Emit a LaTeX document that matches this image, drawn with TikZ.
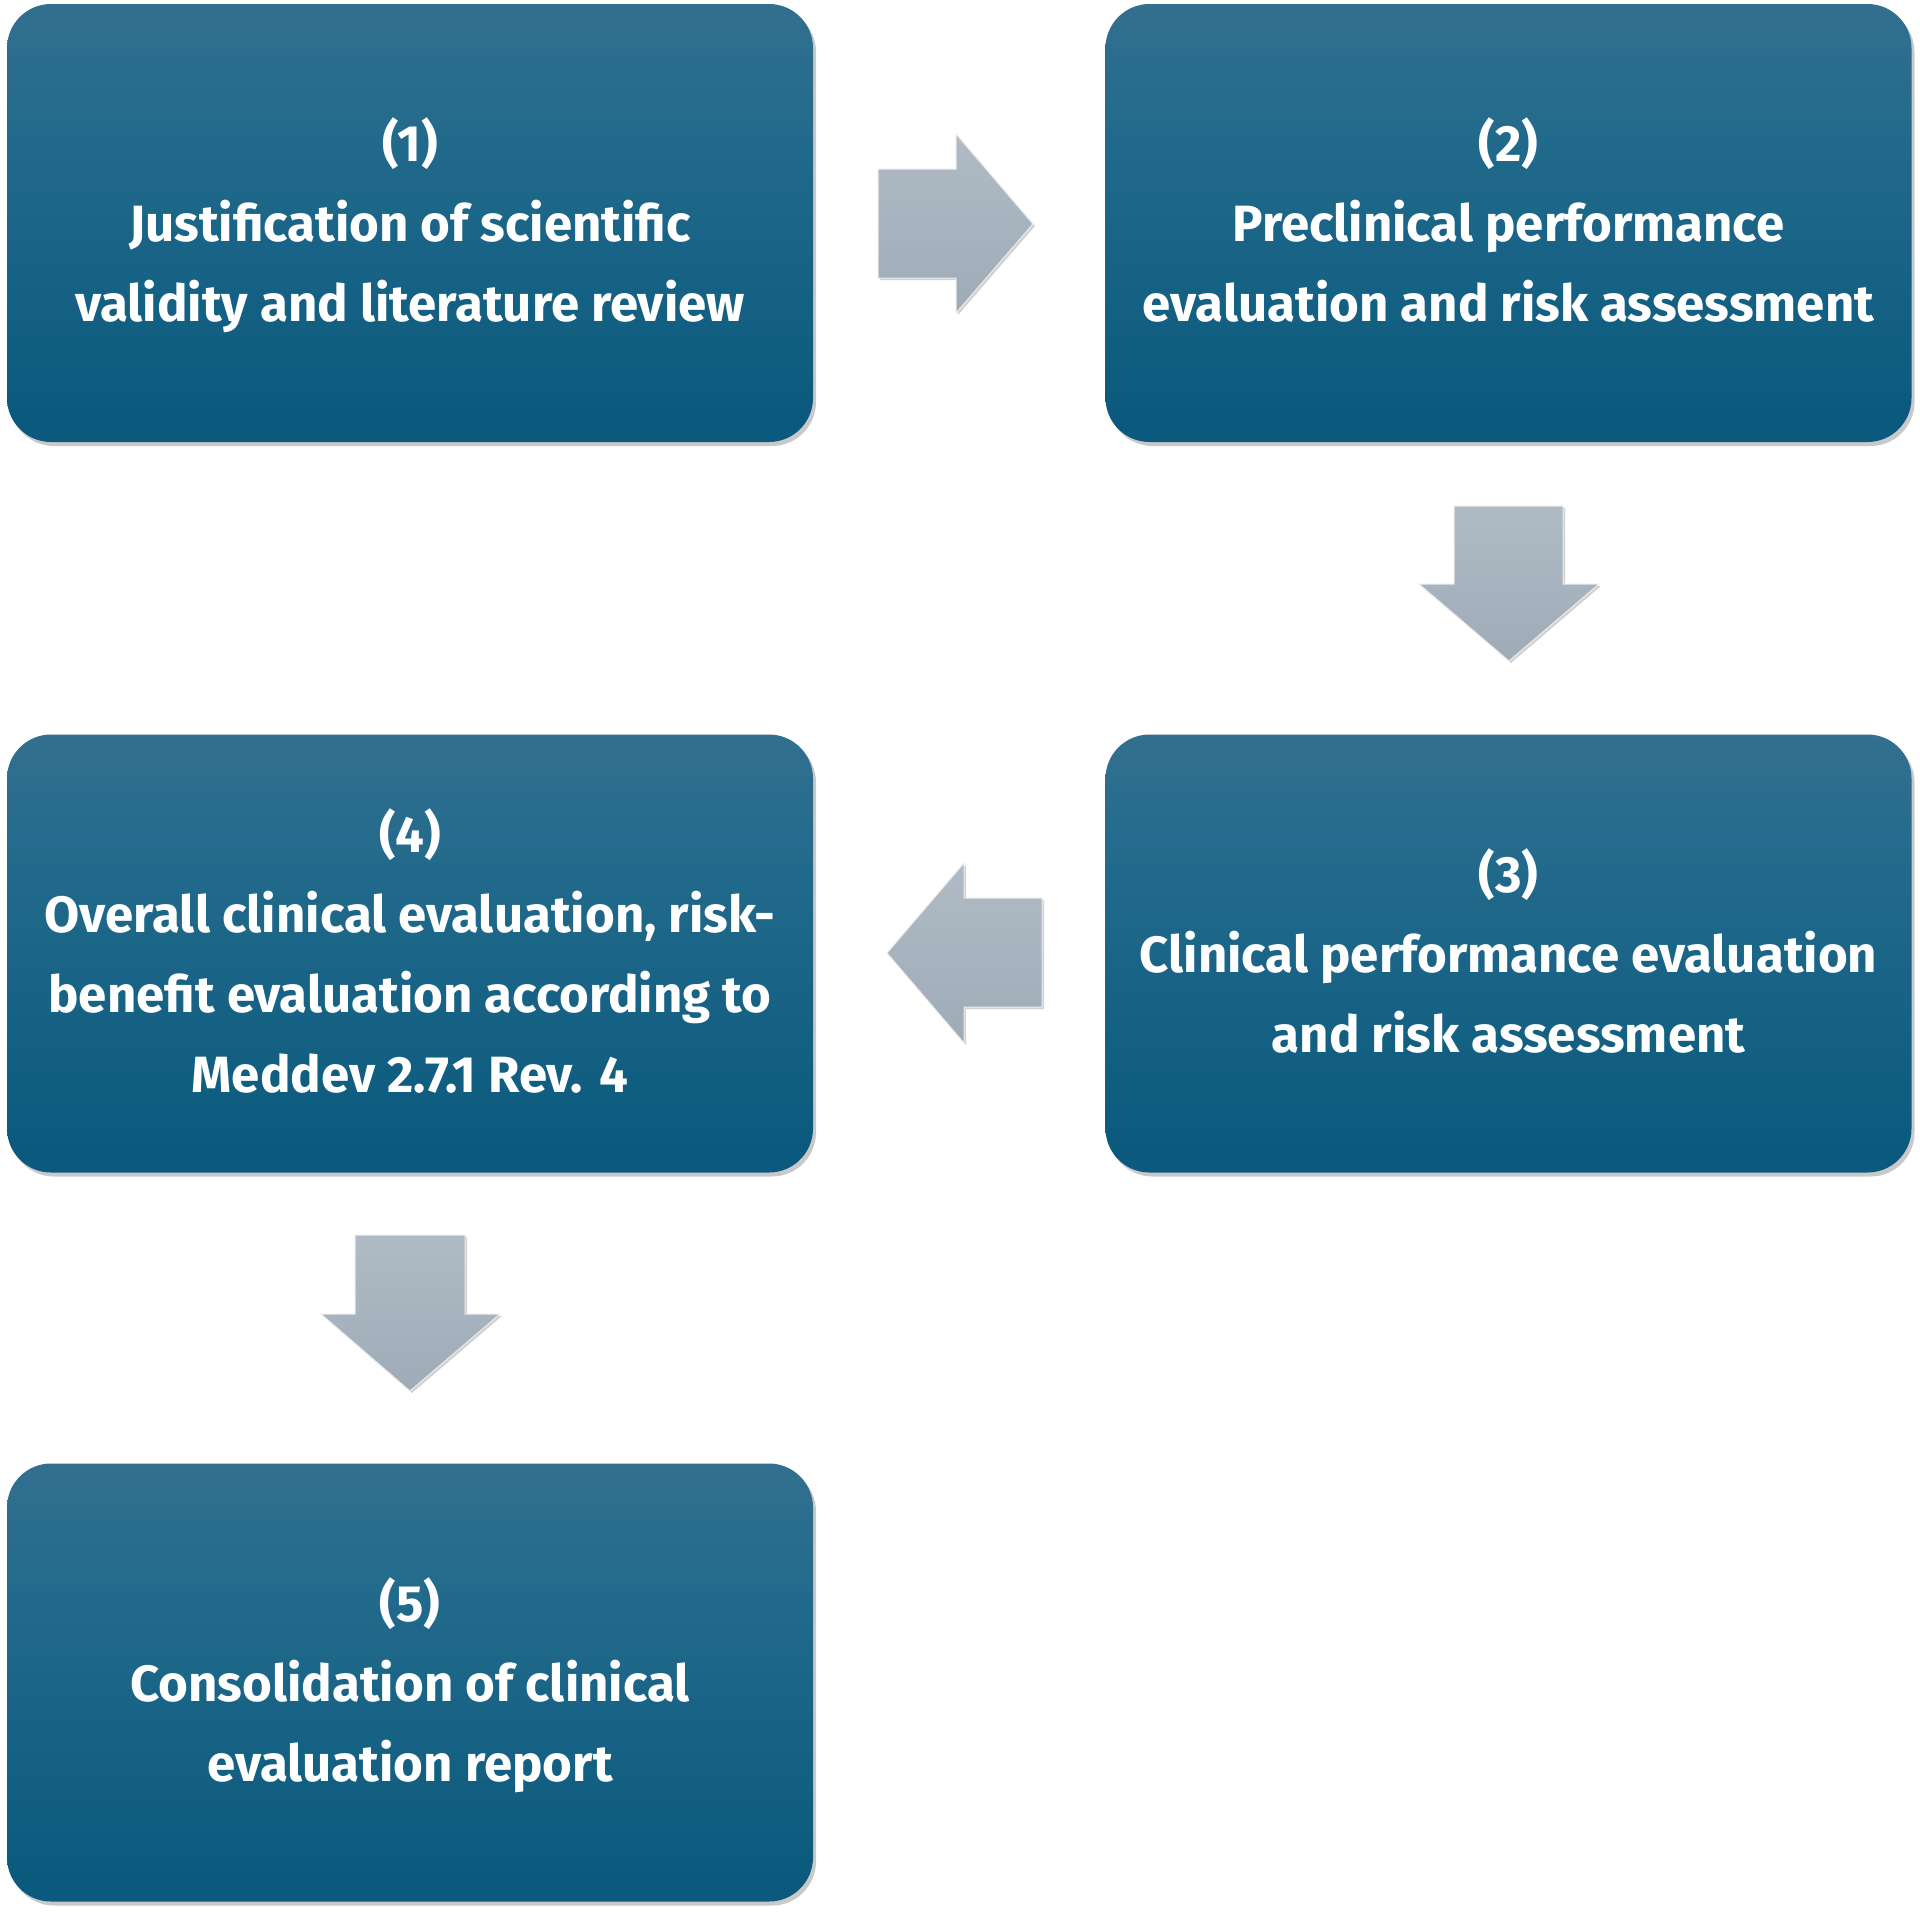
\documentclass[tikz,border=0pt]{standalone}
\usepackage{fontspec}
\setmainfont{Fira Sans}
\usetikzlibrary{shadows}
\definecolor{boxtop}{HTML}{4F7895}
\definecolor{boxmid}{HTML}{226A8C}
\definecolor{boxbot}{HTML}{0B5A7D}
\definecolor{arrtop}{HTML}{B8C2CC}
\definecolor{arrbot}{HTML}{96A4B0}
\pgfdeclareverticalshading{boxshade}{100bp}{color(0bp)=(boxbot); color(28bp)=(boxbot); color(60bp)=(boxmid); color(100bp)=(boxtop)}
\pgfdeclareverticalshading{arrshade}{100bp}{color(0bp)=(arrbot); color(100bp)=(arrtop)}
\newcommand{\topstrut}{\rule{0pt}{61pt}}
\tikzset{
  stepbox/.style={rounded corners=44pt, shading=boxshade, minimum width=806pt,
    minimum height=438pt, align=center, text=white, inner sep=0pt,
    font=\fontsize{51}{80}\selectfont\bfseries,
    drop shadow={shadow xshift=3pt, shadow yshift=-4pt, opacity=0.3, fill=black!70}},
  blockarrow/.style={shading=arrshade, draw=white!85!gray, line width=1pt,
    drop shadow={shadow xshift=2pt, shadow yshift=-2pt, opacity=0.25, fill=black!70}}
}
\begin{document}
\begin{tikzpicture}[x=1pt,y=-1pt]
\useasboundingbox (0,0) rectangle (1920,1912);
\node[stepbox] (b1) at (410,223) {\topstrut(1)\\Justification of scientific\\validity and literature review\strut};
\node[stepbox] (b2) at (1508.5,223) {\topstrut(2)\\Preclinical performance\\evaluation and risk assessment\strut};
\node[stepbox] (b3) at (1508.5,953.5) {\topstrut(3)\\Clinical performance evaluation\\and risk assessment\strut};
\node[stepbox] (b4) at (410,953.5) {\topstrut(4)\\Overall clinical evaluation, risk-\\benefit evaluation according to\\Meddev 2.7.1 Rev. 4\strut};
\node[stepbox] (b5) at (410,1682.5) {\topstrut(5)\\Consolidation of clinical\\evaluation report\strut};
% right arrow
\path[blockarrow] (878,169) -- (956,169) -- (956,134) -- (1033,224) -- (956,313) -- (956,278) -- (878,278) -- cycle;
% down arrow 2->3
\path[blockarrow] (1454,506) -- (1563,506) -- (1563,584) -- (1599,584) -- (1509,661) -- (1419,584) -- (1454,584) -- cycle;
% left arrow 3->4
\path[blockarrow] (1042,898) -- (964,898) -- (964,863) -- (887,953) -- (964,1043) -- (964,1007) -- (1042,1007) -- cycle;
% down arrow 4->5
\path[blockarrow] (355,1235) -- (465,1235) -- (465,1314) -- (500,1314) -- (410,1391) -- (321,1314) -- (355,1314) -- cycle;
\end{tikzpicture}
\end{document}
